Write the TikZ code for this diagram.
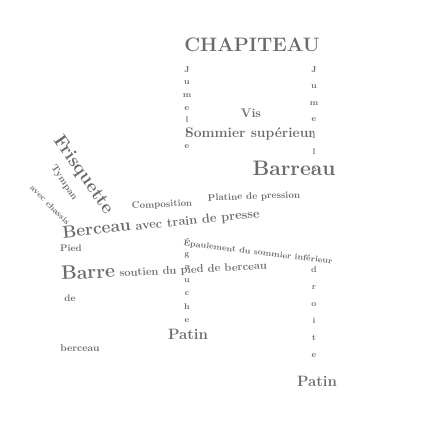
\documentclass[tikz,border=0pt]{standalone}
\usetikzlibrary{positioning}

\begin{document}
\begin{tikzpicture}[
  x=1pt, y=-1pt,
  lbl/.style={text=black!58, inner sep=0pt, font=\bfseries\fontsize{#1}{#1}\selectfont},
  heavy/.style={text=black!58, inner sep=0pt, font=\bfseries\fontsize{#1}{#1}\selectfont},
  letters/.style={text=black!58, inner sep=0pt, anchor=north, align=center}
]
\useasboundingbox (0,0) rectangle (429,431);

% top of the press
\node[heavy=19.5] (chapiteau) at (252,45) {CHAPITEAU};
\node[letters, font=\bfseries\fontsize{8.5}{12.7}\selectfont] (jumelleL) at (187,66) {J\\u\\m\\e\\l\\l\\e};
\node[letters, font=\bfseries\fontsize{8.5}{16.5}\selectfont] (jumelleR) at (314,66) {J\\u\\m\\e\\l\\l\\e};
\node[lbl=12.5] (vis) at (251,113) {Vis};
\node[lbl=13.9] (sommier) at (250,134) {Sommier sup\'erieur};
\node[heavy=21] (barreau) at (294,168) {Barreau};

% carriage side
\node[heavy=18.5, rotate=-55] (frisquette) at (83,175) {Frisquette};
\node[lbl=9.5, rotate=-56] (tympan) at (64,183) {Tympan};
\node[lbl=8.3, rotate=-45] (chassis) at (50,205) {avec chassis};
\node[lbl=9.5, rotate=3] (composition) at (162,205) {Composition};
\node[lbl=9.6, rotate=2] (platine) at (254,197) {Platine de pression};
\node[lbl=12.8, rotate=6] (berceau) at (161,223) {{\fontsize{17.3}{17.3}\selectfont Berceau} avec train de presse};

% lower part
\node[lbl=9.5] (pied) at (71,248) {Pied};
\node[lbl=9.5] (de) at (70,298) {de};
\node[lbl=10] (berceauB) at (80,348) {berceau};
\node[lbl=8.3, rotate=-7] (epaulement) at (258,252) {\'Epaulement du sommier inf\'erieur};
\node[lbl=11.1, rotate=3] (barre) at (164,269) {{\fontsize{19.4}{19.4}\selectfont Barre} soutien du pied de berceau};
\node[letters, font=\bfseries\fontsize{8.5}{13.3}\selectfont] (gauche) at (187,252) {g\\a\\u\\c\\h\\e};
\node[letters, font=\bfseries\fontsize{8.5}{17}\selectfont] (droite) at (314,266) {d\\r\\o\\i\\t\\e};
\node[lbl=15] (patinL) at (188,334) {Patin};
\node[lbl=15] (patinR) at (317,381) {Patin};
\end{tikzpicture}
\end{document}
